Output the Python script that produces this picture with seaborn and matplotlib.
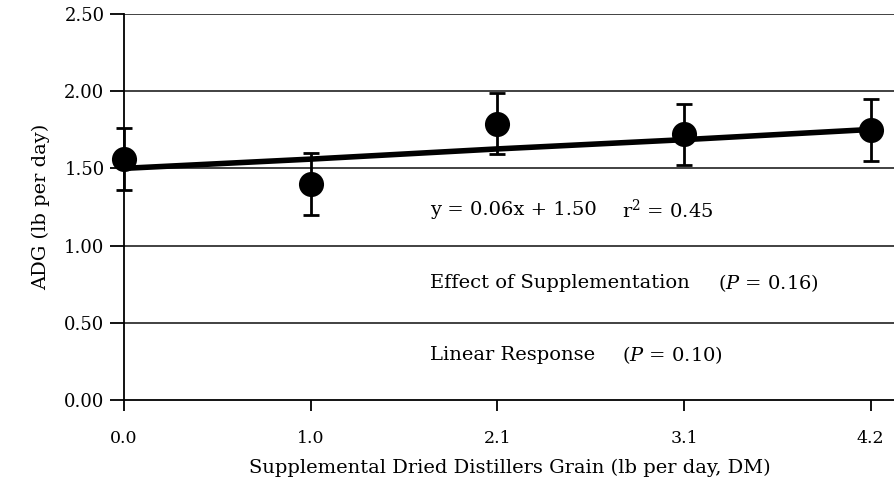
import numpy as np
import pandas as pd
import matplotlib
matplotlib.use("Agg")
import matplotlib.pyplot as plt
import seaborn as sns

dose_labels = ["0.0", "1.0", "2.1", "3.1", "4.2"]
dose_values = [0.0, 1.0, 2.1, 3.1, 4.2]
adg = [1.56, 1.40, 1.79, 1.72, 1.75]
adg_se = [0.20, 0.20, 0.20, 0.20, 0.20]
slope = 0.06
intercept = 1.50
y_ticks = [0.0, 0.5, 1.0, 1.5, 2.0, 2.5]

sns.set_theme(style="white")
plt.rcParams['font.family'] = ['DejaVu Serif']
plt.rcParams['mathtext.fontset'] = 'dejavuserif'
plt.rcParams['text.color'] = 'black'
plt.rcParams['axes.labelcolor'] = 'black'
plt.rcParams['xtick.color'] = 'black'
plt.rcParams['ytick.color'] = 'black'

df = pd.DataFrame({"pos": np.arange(len(dose_labels)), "dose": dose_values, "adg": adg, "se": adg_se})
df["fit"] = intercept + slope * df["dose"]

fig = plt.figure(figsize=(8.95, 4.83), dpi=100)
ax = fig.add_axes([0.1385, 0.172, 0.8615, 0.799])

for yv in y_ticks[1:]:
    ax.axhline(yv, color="#333333", lw=1.3, zorder=1)

ax.errorbar(df["pos"], df["adg"], yerr=df["se"], fmt="none", ecolor="black",
            elinewidth=2, capsize=6, capthick=2, zorder=3, clip_on=False)
sns.lineplot(data=df, x="pos", y="fit", color="black", lw=4, ax=ax, zorder=4)
sns.scatterplot(data=df, x="pos", y="adg", color="black", s=280, ax=ax, zorder=5,
                edgecolor="black", clip_on=False)

ax.set_xlim(0, 4.13)
ax.set_ylim(0, 2.5)
ax.set_xticks(df["pos"])
ax.set_xticklabels(dose_labels, fontsize=12.5)
ax.set_yticks(y_ticks)
ax.set_yticklabels([f"{v:.2f}" for v in y_ticks], fontsize=13)
ax.tick_params(axis="both", direction="out", length=10, width=1.3, bottom=True, left=True)
ax.tick_params(axis="x", length=8, pad=14)
ax.tick_params(axis="y", pad=4)

for side in ["top", "right"]:
    ax.spines[side].set_visible(False)
for side in ["left", "bottom"]:
    ax.spines[side].set_color("black")
    ax.spines[side].set_linewidth(1.3)

ax.set_xlabel("Supplemental Dried Distillers Grain (lb per day, DM)", fontsize=14, labelpad=8)
ax.set_ylabel("ADG (lb per day)", fontsize=14, labelpad=10)

ax.text(1.64, 1.23, "y = 0.06x + 1.50", fontsize=14, va="center")
ax.text(2.667, 1.23, "r$^2$ = 0.45", fontsize=14, va="center")
ax.text(1.64, 0.758, "Effect of Supplementation", fontsize=14, va="center")
ax.text(3.181, 0.758, "($\\it{P}$ = 0.16)", fontsize=14, va="center")
ax.text(1.64, 0.29, "Linear Response", fontsize=14, va="center")
ax.text(2.667, 0.29, "($\\it{P}$ = 0.10)", fontsize=14, va="center")

fig.savefig("out.png", dpi=100)
